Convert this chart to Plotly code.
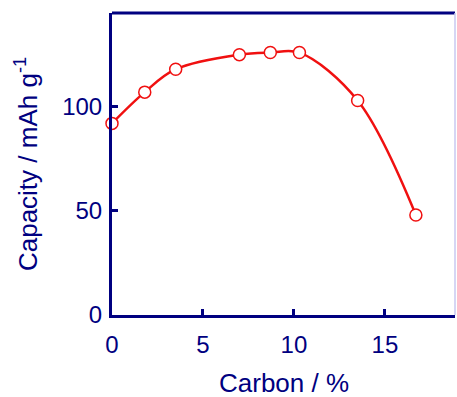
import plotly.graph_objects as go

carbon = [0, 1.8, 3.5, 7.0, 8.7, 10.3, 13.5, 16.7]
capacity = [92, 107, 118, 125, 126, 126, 103, 48]
x_ticks = [0, 5, 10, 15]
y_ticks = [0, 50, 100]

navy = "#000080"
red = "#f01010"
font_family = "Liberation Sans, Arial, sans-serif"

fig = go.Figure()
fig.add_trace(go.Scatter(
    x=carbon, y=capacity, mode="lines+markers",
    line=dict(color=red, width=2.5, shape="spline", smoothing=1.0),
    marker=dict(symbol="circle", size=12, color="white",
                line=dict(color=red, width=1.5)),
    showlegend=False, cliponaxis=False,
))

axis_common = dict(
    showgrid=False, zeroline=False, showline=True, linecolor=navy, linewidth=3,
    ticks="inside", ticklen=6, tickwidth=3, tickcolor=navy, automargin=False,
    tickfont=dict(family=font_family, size=24, color=navy),
)
fig.update_xaxes(range=[0, 18.85], tickvals=x_ticks, ticktext=[str(v) for v in x_ticks],
                 ticklabelstandoff=6, **axis_common)
fig.update_yaxes(range=[0, 145], tickvals=y_ticks, ticktext=[str(v) for v in y_ticks],
                 ticklabelstandoff=2,
                 title=dict(text="Capacity / mAh g<sup>-1</sup>", font=dict(family=font_family, size=26, color=navy), standoff=18),
                 **axis_common)

# x-axis title placed as an annotation so it can sit low like the reference
fig.add_annotation(text="Carbon / %", xref="paper", yref="paper", x=0.5, y=-0.226,
                   xanchor="center", yanchor="middle", showarrow=False,
                   font=dict(family=font_family, size=26, color=navy))

fig.add_shape(type="line", xref="paper", yref="paper", x0=0, x1=1, y0=1, y1=1,
              line=dict(color=navy, width=3))
fig.add_shape(type="line", xref="paper", yref="paper", x0=1, x1=1, y0=0, y1=1,
              line=dict(color="#c8c8f0", width=1.5))

fig.update_layout(
    width=457, height=397,
    margin=dict(l=112, r=2, t=13, b=82),
    paper_bgcolor="white", plot_bgcolor="white",
    font=dict(family=font_family, color=navy),
)

fig.write_html("out.html")
